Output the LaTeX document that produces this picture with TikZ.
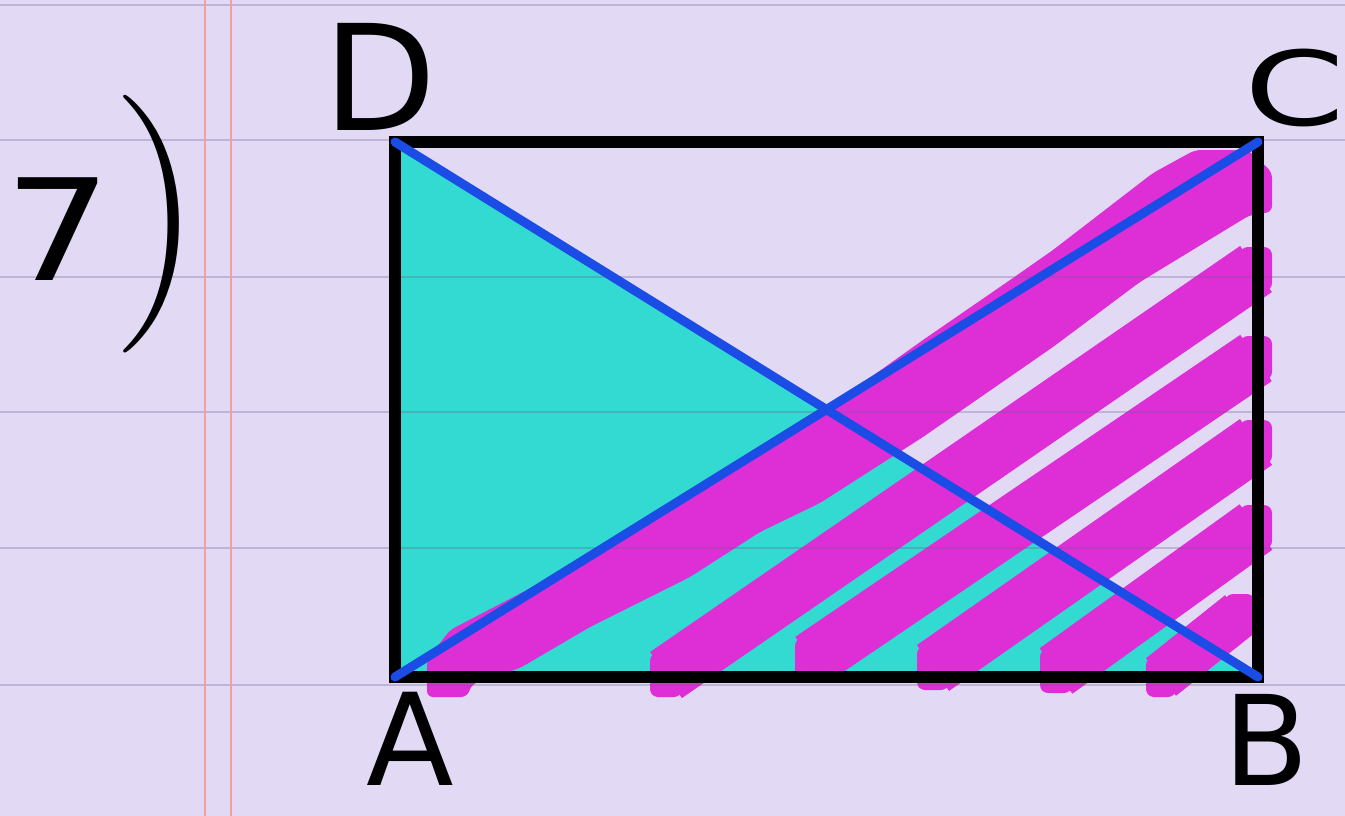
\documentclass[tikz,border=0pt]{standalone}
\usepackage{graphicx}
\usepackage{fontspec}
\newfontfamily\handfont{DejaVu Sans}
\usetikzlibrary{calc}
\definecolor{paper}{RGB}{226,218,245}
\definecolor{ruleline}{RGB}{110,95,140}
\definecolor{marginred}{RGB}{240,160,160}
\definecolor{tealfill}{RGB}{50,218,210}
\definecolor{magfill}{RGB}{222,46,214}
\definecolor{diagblue}{RGB}{28,76,230}
\definecolor{speckred}{RGB}{225,40,40}
\begin{document}
\begin{tikzpicture}[x=1pt,y=-1pt,
  hatch/.style={draw=magfill, line width=56pt},
  hatchthin/.style={draw=magfill, line width=48pt},
  tipbox/.style={fill=magfill, rounded corners=8pt},
  framebox/.style={draw=black, line width=12pt},
  diag/.style={draw=diagblue, line width=9pt, line cap=round},
  paperline/.style={draw=ruleline, opacity=0.3, line width=2.5pt},
  marginline/.style={draw=marginred, line width=2.5pt},
  lab/.style={inner sep=0pt, anchor=base, text=black, text depth=0pt}]
\useasboundingbox (0,0) rectangle (1345,816);
\fill[paper] (0,0) rectangle (1345,816);

% corners of the rectangle
\coordinate (A) at (395,677);
\coordinate (B) at (1258,677);
\coordinate (C) at (1258,142);
\coordinate (D) at (395,142);

% cyan triangle DAB
\fill[tealfill] (D) -- (A) -- (B) -- cycle;

% magenta hatching: first wide stroke along AC
\fill[magfill, rounded corners=6pt]
  (427,697) -- (467,697) -- (472,684) -- (520,668) -- (590,627) -- (690,577)
  -- (760,532) -- (820,503) -- (923,437) -- (1053,347) -- (1140,282)
  -- (1250,215) -- (1272,212) -- (1272,172) -- (1248,150) -- (1195,150)
  -- (1153,173) -- (1053,250) -- (1013,278) -- (923,340) -- (850,392)
  -- (700,485) -- (550,578) -- (450,630) -- (427,660) -- cycle;

\coordinate (s2a) at (666,675);  \coordinate (s2b) at (1256,269);
\coordinate (s3a) at (811,660);  \coordinate (s3b) at (1256,358);
\coordinate (s4a) at (933,668);  \coordinate (s4b) at (1256,442);
\coordinate (s5a) at (1056,671); \coordinate (s5b) at (1256,527);
\coordinate (s6a) at (1161,677); \coordinate (s6b) at (1240,614);

\foreach \s in {s2,s3,s4,s5}{
  \draw[hatch] (\s a) -- (\s b);
  \fill[tipbox] ($(\s a)+(-16,-22)$) rectangle ($(\s a)+(16,22)$);
  \fill[tipbox] ($(\s b)+(-16,-22)$) rectangle ($(\s b)+(16,22)$);
}
\draw[hatchthin] (s6a) -- (s6b);
\fill[tipbox] ($(s6a)+(-15,-20)$) rectangle ($(s6a)+(15,20)$);
\fill[tipbox] ($(s6b)+(-15,-20)$) rectangle ($(s6b)+(15,20)$);

% ruled paper lines
\foreach \yy in {5,140,277,412,548,685}{
  \draw[paperline] (0,\yy) -- (1345,\yy);
}
% margin lines
\draw[marginline] (205,0) -- (205,816);
\draw[marginline] (231,0) -- (231,816);

% rectangle frame
\draw[framebox] (A) rectangle (C);

% diagonals
\draw[diag] (A) -- (C);
\draw[diag] (D) -- (B);

% small red speck
\fill[speckred] (40,186) ellipse (7pt and 3pt);

% labels
\node[lab, anchor=base west] (num) at (4,280)
  {{\handfont\fontsize{141}{141}\selectfont\scalebox{1.2}[1]{7}}\raisebox{-8.5pt}{\fontsize{258}{258}\selectfont )}};
\node[lab, font=\handfont\fontsize{147}{147}\selectfont] (labD) at (380,130) {D};
\node[lab, font=\handfont\fontsize{103}{103}\selectfont] (labC) at (1295,125) {\scalebox{1.4}[1]{C}};
\node[lab, font=\handfont\fontsize{128}{128}\selectfont] (labA) at (410,785) {A};
\node[lab, font=\handfont\fontsize{125}{125}\selectfont] (labB) at (1266,785) {B};
\end{tikzpicture}
\end{document}
